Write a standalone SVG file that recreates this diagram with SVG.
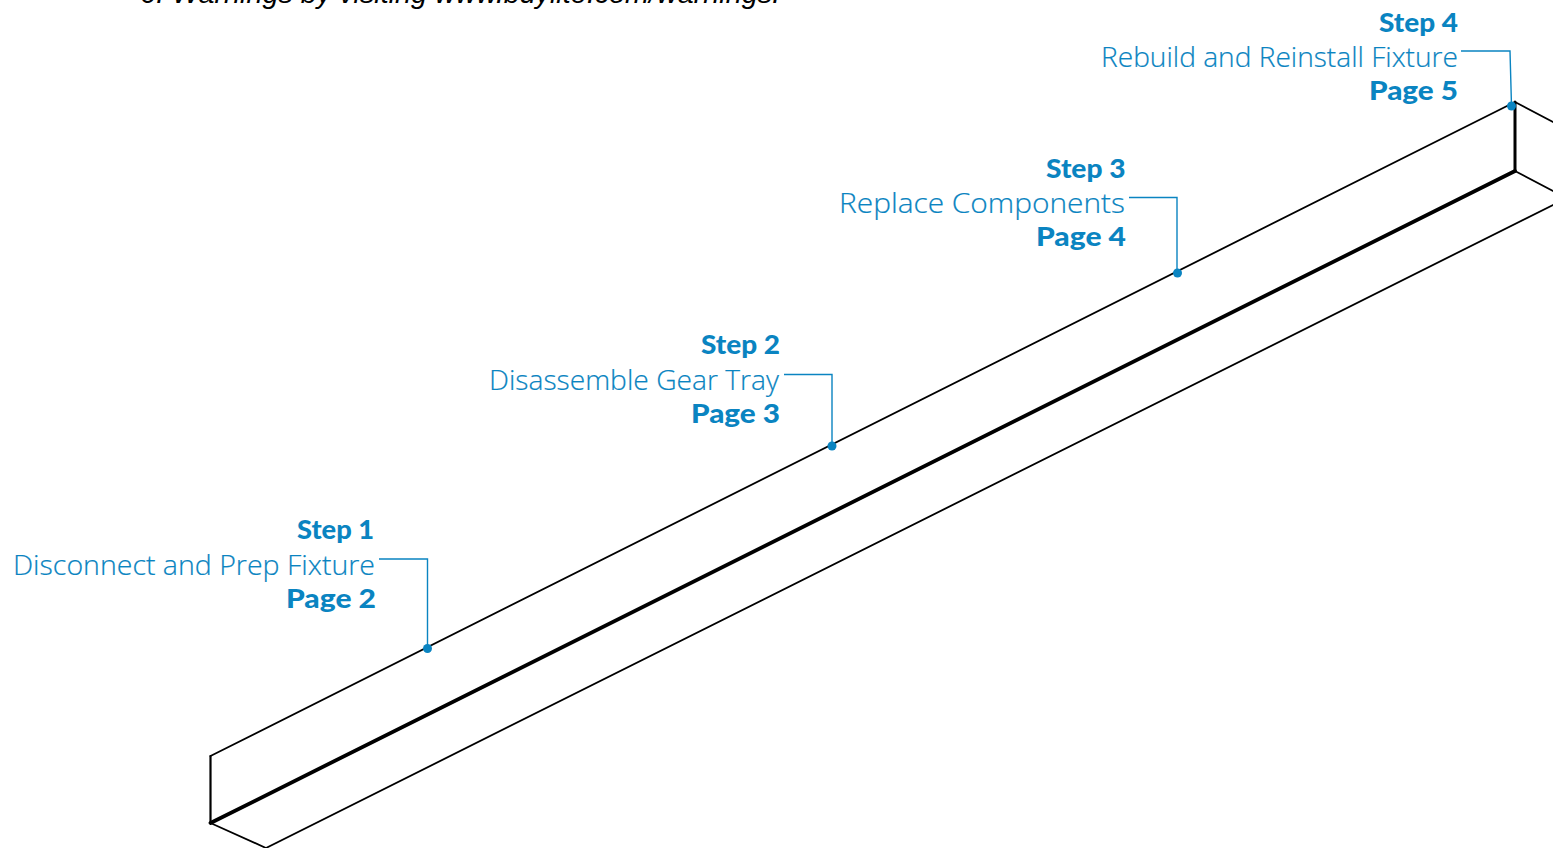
<svg xmlns="http://www.w3.org/2000/svg" width="1553" height="848" viewBox="0 0 1553 848">
<style>
.l{fill:none;stroke:#000;stroke-linecap:round;stroke-linejoin:round}
.t{stroke-width:1.8}.m{stroke-width:2.2}.v{stroke-width:3}.h{stroke-width:3.8}
.c{fill:none;stroke:#0a84c1;stroke-width:1.4}
.d{fill:#0a84c1}
text{fill:#0a84c1;text-anchor:end}
.b{font-family:Lato,"Liberation Sans",sans-serif;font-weight:900;font-size:27px}
.r{font-family:"Open Sans","Liberation Sans",sans-serif;font-weight:300;font-size:27px;stroke:#0a84c1;stroke-width:.2}
.top{font-family:"Liberation Sans",sans-serif;fill:#000;font-size:27px;font-style:italic;text-anchor:start}
</style>
<rect width="1553" height="848" fill="#fff"/>
<text class="top" x="140" y="3" textLength="640" lengthAdjust="spacingAndGlyphs">6. Warnings by visiting www.buylite.com/warnings.</text>
<g id="fixture">
<path class="l t" d="M210.500 756L1515 102L1553 122"/>
<path class="l m" d="M210.500 756V823"/>
<path class="l v" d="M1515 102V171"/>
<path class="l h" d="M210.500 823L1515 171"/>
<path class="l t" d="M210.500 823L266 848L1553 205"/>
<path class="l t" d="M1515 171L1553 191"/>
</g>
<g id="connectors">
<path class="c" d="M379 559H427.500V648"/>
<path class="c" d="M784 374.500H832V446"/>
<path class="c" d="M1129 197.500H1177V273"/>
<path class="c" d="M1461 51H1510L1511.500 106"/>
</g>
<g id="step1"><text class="b" x="374" y="539" textLength="77" lengthAdjust="spacingAndGlyphs">Step 1</text><text class="r" x="375" y="574.500" textLength="362" lengthAdjust="spacingAndGlyphs">Disconnect and Prep Fixture</text><text class="b" x="376" y="608" textLength="90" lengthAdjust="spacingAndGlyphs">Page 2</text><circle class="d" cx="427.500" cy="648.500" r="4.500"/></g>
<g id="step2"><text class="b" x="780" y="354" textLength="79" lengthAdjust="spacingAndGlyphs">Step 2</text><text class="r" x="779" y="389.500" textLength="290" lengthAdjust="spacingAndGlyphs">Disassemble Gear Tray</text><text class="b" x="780" y="423" textLength="89" lengthAdjust="spacingAndGlyphs">Page 3</text><circle class="d" cx="832" cy="446" r="4.500"/></g>
<g id="step3"><text class="b" x="1125.500" y="178" textLength="79.500" lengthAdjust="spacingAndGlyphs">Step 3</text><text class="r" x="1125" y="212.500" textLength="286" lengthAdjust="spacingAndGlyphs">Replace Components</text><text class="b" x="1126" y="246" textLength="90" lengthAdjust="spacingAndGlyphs">Page 4</text><circle class="d" cx="1177.500" cy="273" r="4.500"/></g>
<g id="step4"><text class="b" x="1458" y="32" textLength="79" lengthAdjust="spacingAndGlyphs">Step 4</text><text class="r" x="1458" y="66.500" textLength="357" lengthAdjust="spacingAndGlyphs">Rebuild and Reinstall Fixture</text><text class="b" x="1458" y="100" textLength="89" lengthAdjust="spacingAndGlyphs">Page 5</text><circle class="d" cx="1511.500" cy="106" r="4.500"/></g>
</svg>
